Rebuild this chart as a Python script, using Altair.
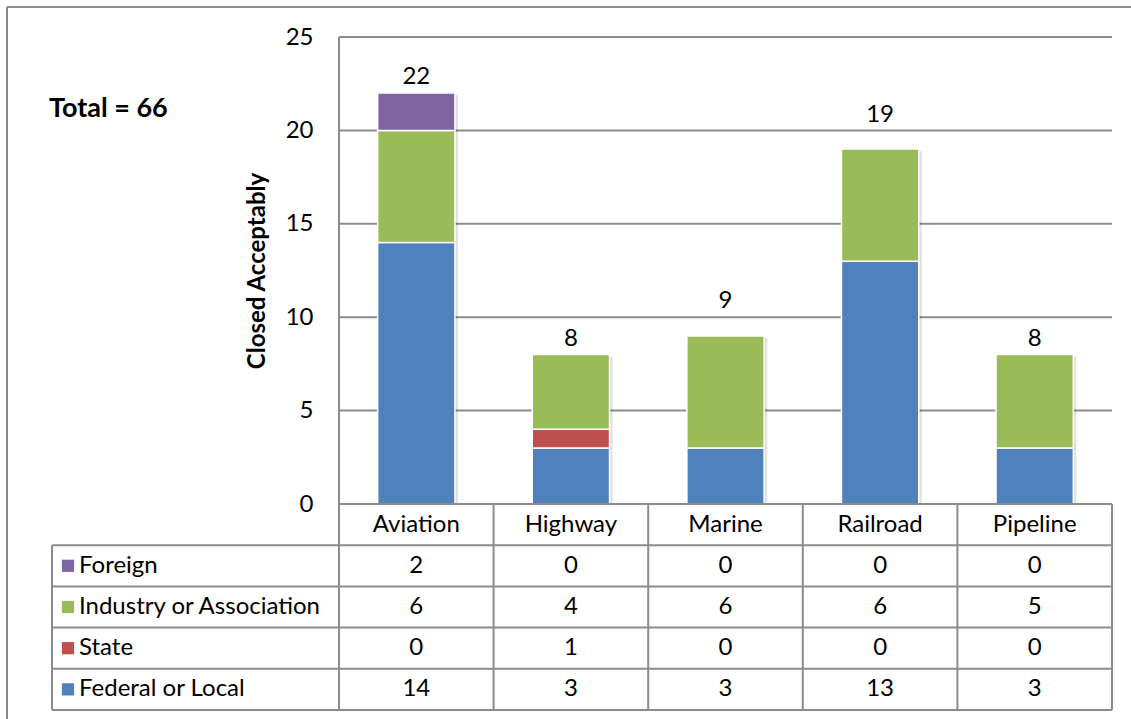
import altair as alt
import pandas as pd

# ---- data ----
categories = ["Aviation", "Highway", "Marine", "Railroad", "Pipeline"]
federal_local = [14, 3, 3, 13, 3]
state = [0, 1, 0, 0, 0]
industry_assoc = [6, 4, 6, 6, 5]
foreign = [2, 0, 0, 0, 0]

# stacking order, bottom to top
series_names = ["Federal or Local", "State", "Industry or Association", "Foreign"]
series_values = [federal_local, state, industry_assoc, foreign]
series_colors = ["#4F81BD", "#C0504D", "#9BBB59", "#8064A2"]

# data-table rows, top to bottom
table_rows = ["Foreign", "Industry or Association", "State", "Federal or Local"]
y_ticks = [0, 5, 10, 15, 20, 25]

# ---- layout (pixels) ----
W, H = 1131, 719
PLOT_LEFT, PLOT_RIGHT = 339, 1112
PLOT_TOP, PLOT_BOTTOM = 37, 504
TABLE_LEFT, TABLE_BOTTOM = 52, 710
FONT = "Lato"
FS = 24
LINE = "#8C8C8C"
LABEL_LIFT = 0.85      # total labels sit this far (in axis units) above the bar top
GRID_CLEAR = 0.75      # ...and are lifted above a gridline they would otherwise sit on

n_cat = len(categories)
col_px = (PLOT_RIGHT - PLOT_LEFT) / n_cat
LABEL_EDGE = -(PLOT_LEFT - TABLE_LEFT) / col_px   # left edge of the row-label column, in column units
n_rows = len(table_rows) + 1                       # header row + series rows

x_scale = alt.Scale(domain=[LABEL_EDGE, n_cat], range=[TABLE_LEFT, PLOT_RIGHT], nice=False, zero=False)
yb_scale = alt.Scale(domain=[0, 25], range=[PLOT_BOTTOM, PLOT_TOP], nice=False)
yt_scale = alt.Scale(domain=[0, n_rows], range=[PLOT_BOTTOM, TABLE_BOTTOM], nice=False, zero=False)

y_axis = alt.Axis(
    orient="left", values=y_ticks, offset=-PLOT_LEFT, domain=False, ticks=False, grid=False,
    labelFont=FONT, labelFontSize=FS, labelColor="#000000", labelPadding=26,
    title="Closed Acceptably", titleFont=FONT, titleFontSize=24,
    titleFontWeight="bold", titleColor="#000000", titlePadding=16)


def X(field):
    return alt.X(field, type="quantitative", scale=x_scale, axis=None)


def X2(field):
    return alt.X2(field)


def YB(field):
    return alt.Y(field, type="quantitative", scale=yb_scale, axis=y_axis)


def YT(field):
    return alt.Y(field, type="quantitative", scale=yt_scale, axis=None)


def label_position(total):
    pos = total + LABEL_LIFT
    for t in y_ticks:
        if abs(pos - t) < GRID_CLEAR:
            pos = t + LABEL_LIFT
    return pos


# ---- tables built from the arrays ----
seg_rows = []
for i, cat in enumerate(categories):
    base = 0
    for name, vals in zip(series_names, series_values):
        v = vals[i]
        seg_rows.append({"category": cat, "series": name, "value": v,
                         "x0": i + 0.25, "x1": i + 0.75, "y0": base, "y1": base + v})
        base += v
segments = pd.DataFrame(seg_rows)
segments = segments[segments["value"] > 0]

cat_totals = [sum(v[i] for v in series_values) for i in range(n_cat)]
totals = pd.DataFrame({
    "category": categories,
    "total": cat_totals,
    "label_y": [label_position(t) for t in cat_totals],
    "xc": [i + 0.5 for i in range(n_cat)],
    "x0": [i + 0.25 for i in range(n_cat)],
    "x1": [i + 0.75 for i in range(n_cat)],
})
grand_total = int(sum(cat_totals))

grid = pd.DataFrame(
    [{"x": 0, "x2": n_cat, "y": t, "y2": t} for t in y_ticks[1:]]
    + [{"x": 0, "x2": 0, "y": 0, "y2": y_ticks[-1]}]
)

table_lines = pd.DataFrame(
    [{"x": 0, "x2": n_cat, "y": 0, "y2": 0}]
    + [{"x": LABEL_EDGE, "x2": n_cat, "y": r, "y2": r} for r in range(1, n_rows + 1)]
    + [{"x": c, "x2": c, "y": 0, "y2": n_rows} for c in range(n_cat + 1)]
    + [{"x": LABEL_EDGE, "x2": LABEL_EDGE, "y": 1, "y2": n_rows}]
)

header = pd.DataFrame({"category": categories, "xc": [i + 0.5 for i in range(n_cat)], "yc": 0.5})

cells = []
lookup = dict(zip(series_names, series_values))
for r, name in enumerate(table_rows):
    for i, cat in enumerate(categories):
        cells.append({"series": name, "category": cat, "value": str(lookup[name][i]),
                      "xc": i + 0.5, "yc": r + 1.5})
cells = pd.DataFrame(cells)

row_labels = pd.DataFrame({
    "series": table_rows,
    "xe": LABEL_EDGE,
    "yc": [r + 1.5 for r in range(len(table_rows))],
})

color_scale = alt.Scale(domain=series_names, range=series_colors)

# ---- bar area ----
grid_lines = alt.Chart(grid).mark_rule(color=LINE, strokeWidth=2).encode(
    x=X("x"), x2=X2("x2"), y=YB("y"), y2=alt.Y2("y2"))

shadow = alt.Chart(totals).mark_rect(
    fill="#000000", opacity=0.12, xOffset=2, x2Offset=3, yOffset=2, y2Offset=0
).encode(x=X("x0"), x2=X2("x1"), y=YB("total"), y2=alt.Y2(datum=0))

bars = alt.Chart(segments).mark_rect(stroke="white", strokeWidth=1.5).encode(
    x=X("x0"), x2=X2("x1"),
    y=YB("y1"), y2=alt.Y2("y0"),
    color=alt.Color("series:N", scale=color_scale, legend=None),
)

total_labels = alt.Chart(totals).mark_text(
    font=FONT, fontSize=FS, baseline="middle", color="#000000"
).encode(x=X("xc"), y=YB("label_y"), text="total:Q")

grand_label = alt.Chart(pd.DataFrame({"t": [f"Total = {grand_total}"]})).mark_text(
    font=FONT, fontSize=27, fontWeight="bold", align="left", baseline="middle", color="#000000"
).encode(x=alt.value(49), y=alt.value(109), text="t:N")

# ---- data table ----
t_lines = alt.Chart(table_lines).mark_rule(color=LINE, strokeWidth=2).encode(
    x=X("x"), x2=X2("x2"), y=YT("y"), y2=alt.Y2("y2"))

header_text = alt.Chart(header).mark_text(
    font=FONT, fontSize=FS, baseline="middle", color="#000000"
).encode(x=X("xc"), y=YT("yc"), text="category:N")

cell_text = alt.Chart(cells).mark_text(
    font=FONT, fontSize=FS, baseline="middle", color="#000000"
).encode(x=X("xc"), y=YT("yc"), text="value:N")

swatches = alt.Chart(row_labels).mark_square(size=150, opacity=1, xOffset=16).encode(
    x=X("xe"), y=YT("yc"),
    color=alt.Color("series:N", scale=color_scale, legend=None))

label_text = alt.Chart(row_labels).mark_text(
    font=FONT, fontSize=FS, align="left", baseline="middle", xOffset=27, color="#000000"
).encode(x=X("xe"), y=YT("yc"), text="series:N")

# ---- outer frame ----
frame_top = alt.Chart(pd.DataFrame({"k": [0]})).mark_rule(color=LINE, strokeWidth=2).encode(
    x=alt.value(7), x2=alt.value(W), y=alt.value(7))
frame_left = alt.Chart(pd.DataFrame({"k": [0]})).mark_rule(color=LINE, strokeWidth=2).encode(
    x=alt.value(7), y=alt.value(7), y2=alt.value(H))

bar_part = alt.layer(grid_lines, shadow, bars, total_labels)
table_part = alt.layer(t_lines, header_text, cell_text, swatches, label_text)

chart = alt.layer(
    bar_part, table_part, frame_top, frame_left, grand_label
).resolve_scale(y="independent", color="shared").properties(
    width=W, height=H,
    autosize=alt.AutoSizeParams(type="none"),
    padding=0,
    background="white",
).configure_view(stroke=None)

chart.save("out.html", embed_options={"renderer": "svg", "actions": False})
